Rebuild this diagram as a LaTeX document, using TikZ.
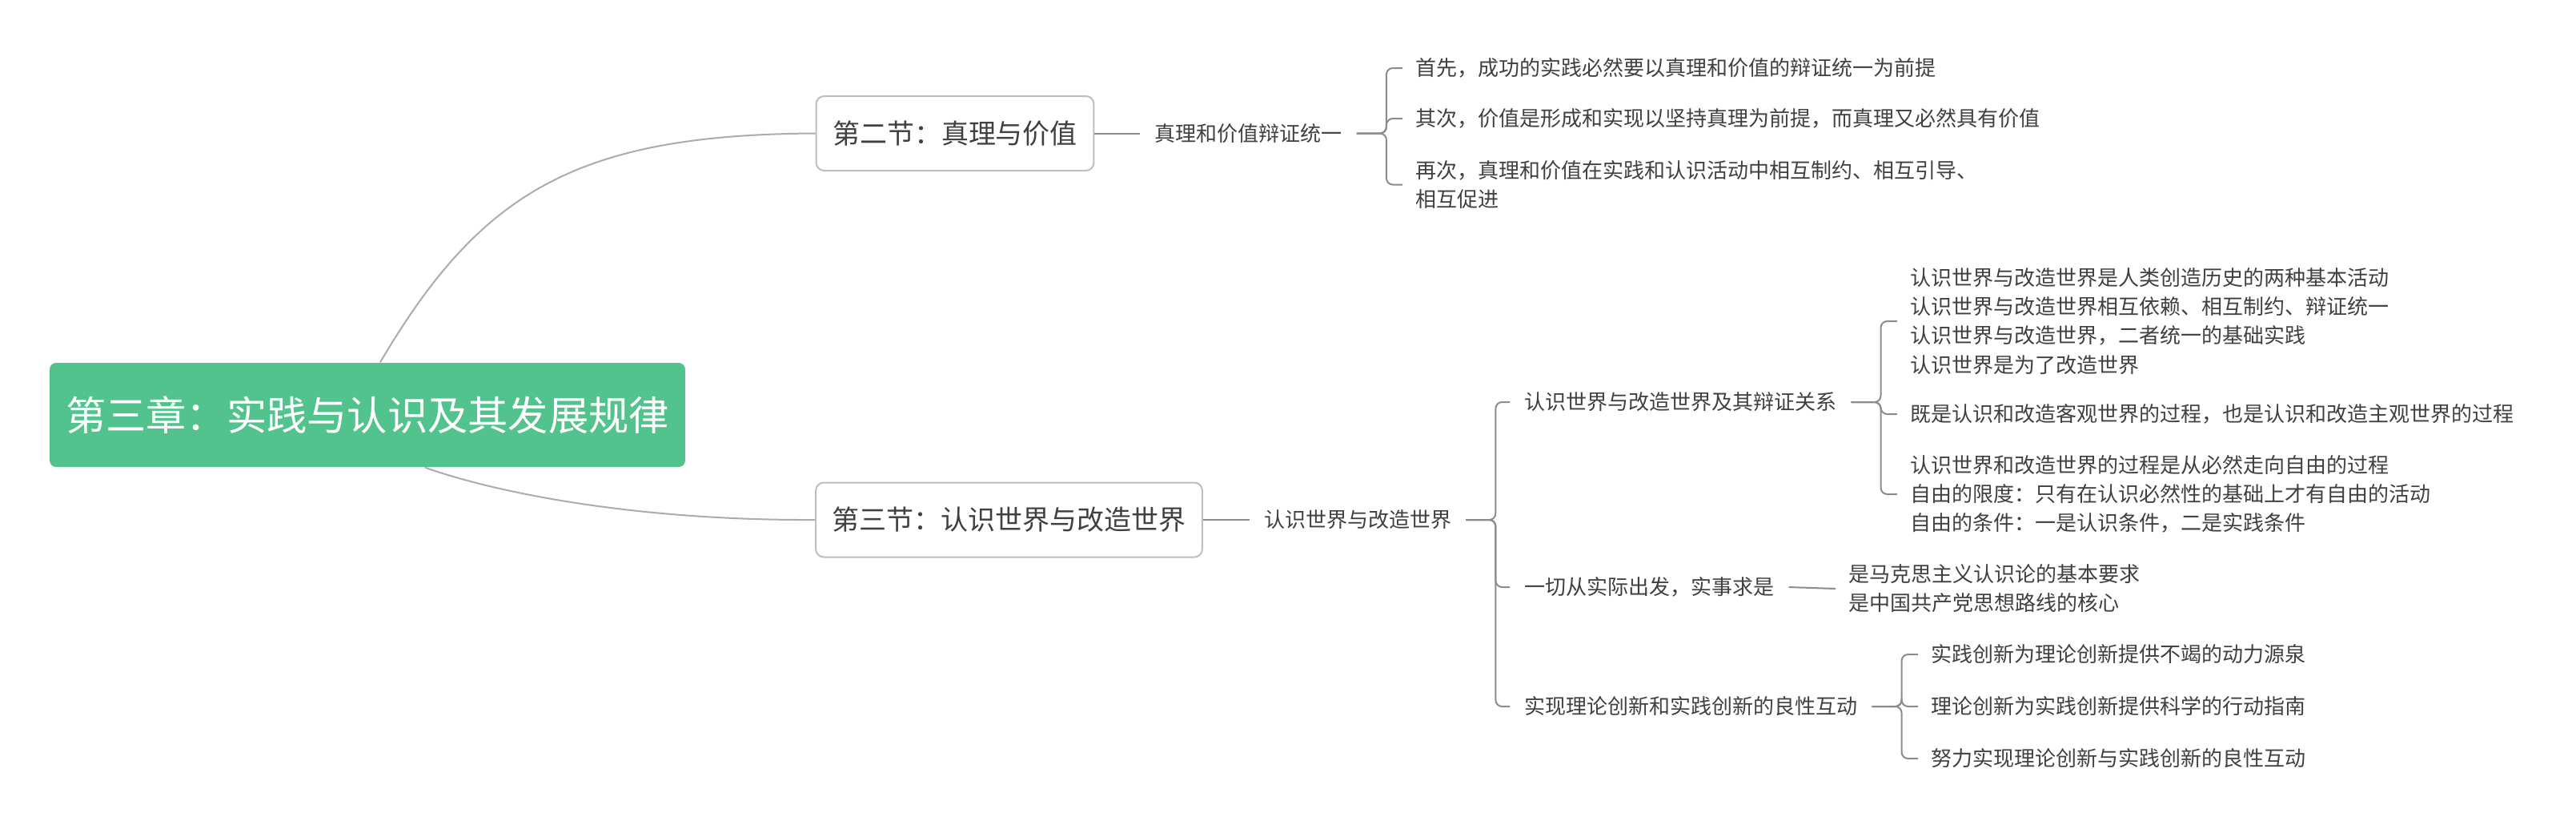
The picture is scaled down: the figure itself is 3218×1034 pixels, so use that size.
\documentclass[tikz,border=0pt]{standalone}
\usepackage{fontspec}
\setmainfont{Noto Sans CJK SC}
\usepackage{xcolor}
\usepackage{tikz}
\usetikzlibrary{positioning,calc}

\definecolor{rootgreen}{RGB}{82,195,141}
\definecolor{boxgray}{RGB}{190,190,190}
\definecolor{curvegray}{RGB}{172,172,172}
\definecolor{linegray}{RGB}{140,140,140}
\definecolor{inkgray}{RGB}{64,64,64}

\begin{document}
\begin{tikzpicture}[
    x=0.1mm, y=-0.1mm,
    chapter/.style={rectangle, rounded corners=0.8mm, fill=rootgreen, text=white, font=\fontsize{14.3pt}{17pt}\selectfont, inner xsep=2mm, minimum height=13mm},
    section node/.style={rectangle, rounded corners=1mm, draw=boxgray, line width=0.2mm, fill=white, text=inkgray, font=\fontsize{9.67pt}{12pt}\selectfont, inner xsep=2.05mm, minimum height=9.3mm},
    topic/.style={text=inkgray, font=\fontsize{7.4pt}{10.3pt}\selectfont, inner xsep=1.75mm, inner ysep=0pt},
    leaf/.style={topic, anchor=west, align=left, inner xsep=1.6mm},
    main edge/.style={draw=curvegray, line width=0.2mm},
    sub edge/.style={draw=linegray, line width=0.2mm, rounded corners=0.8mm}
]
    \fill[white] (0,0) rectangle (3218,1034);
    \useasboundingbox (0,0) rectangle (3218,1034);

    % Root and sections
    \node[chapter] (root) at (459,518) {第三章：实践与认识及其发展规律};
    \node[section node] (s2) at (1193,166.5) {第二节：真理与价值};
    \node[section node] (s3) at (1260.5,649) {第三节：认识世界与改造世界};
    \draw[main edge] ([xshift=1.6mm]root.north) .. controls (600,240) and (720,168) .. (s2.west);
    \draw[main edge] ([xshift=7.2mm]root.south) .. controls (625,617) and (800,650) .. (s3.west);

    % Section 2
    \node[topic, right=5.7mm of s2] (t2) {真理和价值辩证统一};
    \draw[sub edge] (s2.east) -- (t2.west);
    \foreach \y/\name/\txt in {85/a1/{首先，成功的实践必然要以真理和价值的辩证统一为前提},
        148/a2/{其次，价值是形成和实现以坚持真理为前提，而真理又必然具有价值},
        230.5/a3/{再次，真理和价值在实践和认识活动中相互制约、相互引导、\\相互促进}} {
        \node[leaf] (\name) at (1752,\y) {\txt};
        \draw[sub edge] (t2.east) -- ++(3.7mm,0) |- (\name.west);
    }

    % Section 3
    \node[topic, right=5.8mm of s3] (t3) {认识世界与改造世界};
    \draw[sub edge] (s3.east) -- (t3.west);
    \foreach \y/\name/\txt in {502/t3a/{认识世界与改造世界及其辩证关系},
        733/t3b/{一切从实际出发，实事求是},
        882/t3c/{实现理论创新和实践创新的良性互动}} {
        \node[topic, anchor=west] (\name) at (1886,\y) {\txt};
        \draw[sub edge] (t3.east) -- ++(3.7mm,0) |- (\name.west);
    }

    \foreach \y/\name/\txt in {401/b1/{认识世界与改造世界是人类创造历史的两种基本活动\\认识世界与改造世界相互依赖、相互制约、辩证统一\\认识世界与改造世界，二者统一的基础实践\\认识世界是为了改造世界},
        517/b2/{既是认识和改造客观世界的过程，也是认识和改造主观世界的过程},
        617/b3/{认识世界和改造世界的过程是从必然走向自由的过程\\自由的限度：只有在认识必然性的基础上才有自由的活动\\自由的条件：一是认识条件，二是实践条件}} {
        \node[leaf] (\name) at (2370,\y) {\txt};
        \draw[sub edge] (t3a.east) -- ++(3.7mm,0) |- (\name.west);
    }

    \node[leaf] (c0) at (2293,735) {是马克思主义认识论的基本要求\\是中国共产党思想路线的核心};
    \draw[sub edge] (t3b.east) -- (c0.west);

    \foreach \y/\name/\txt in {817/d1/{实践创新为理论创新提供不竭的动力源泉},
        882/d2/{理论创新为实践创新提供科学的行动指南},
        947/d3/{努力实现理论创新与实践创新的良性互动}} {
        \node[leaf] (\name) at (2396,\y) {\txt};
        \draw[sub edge] (t3c.east) -- ++(3.7mm,0) |- (\name.west);
    }
\end{tikzpicture}
\end{document}
